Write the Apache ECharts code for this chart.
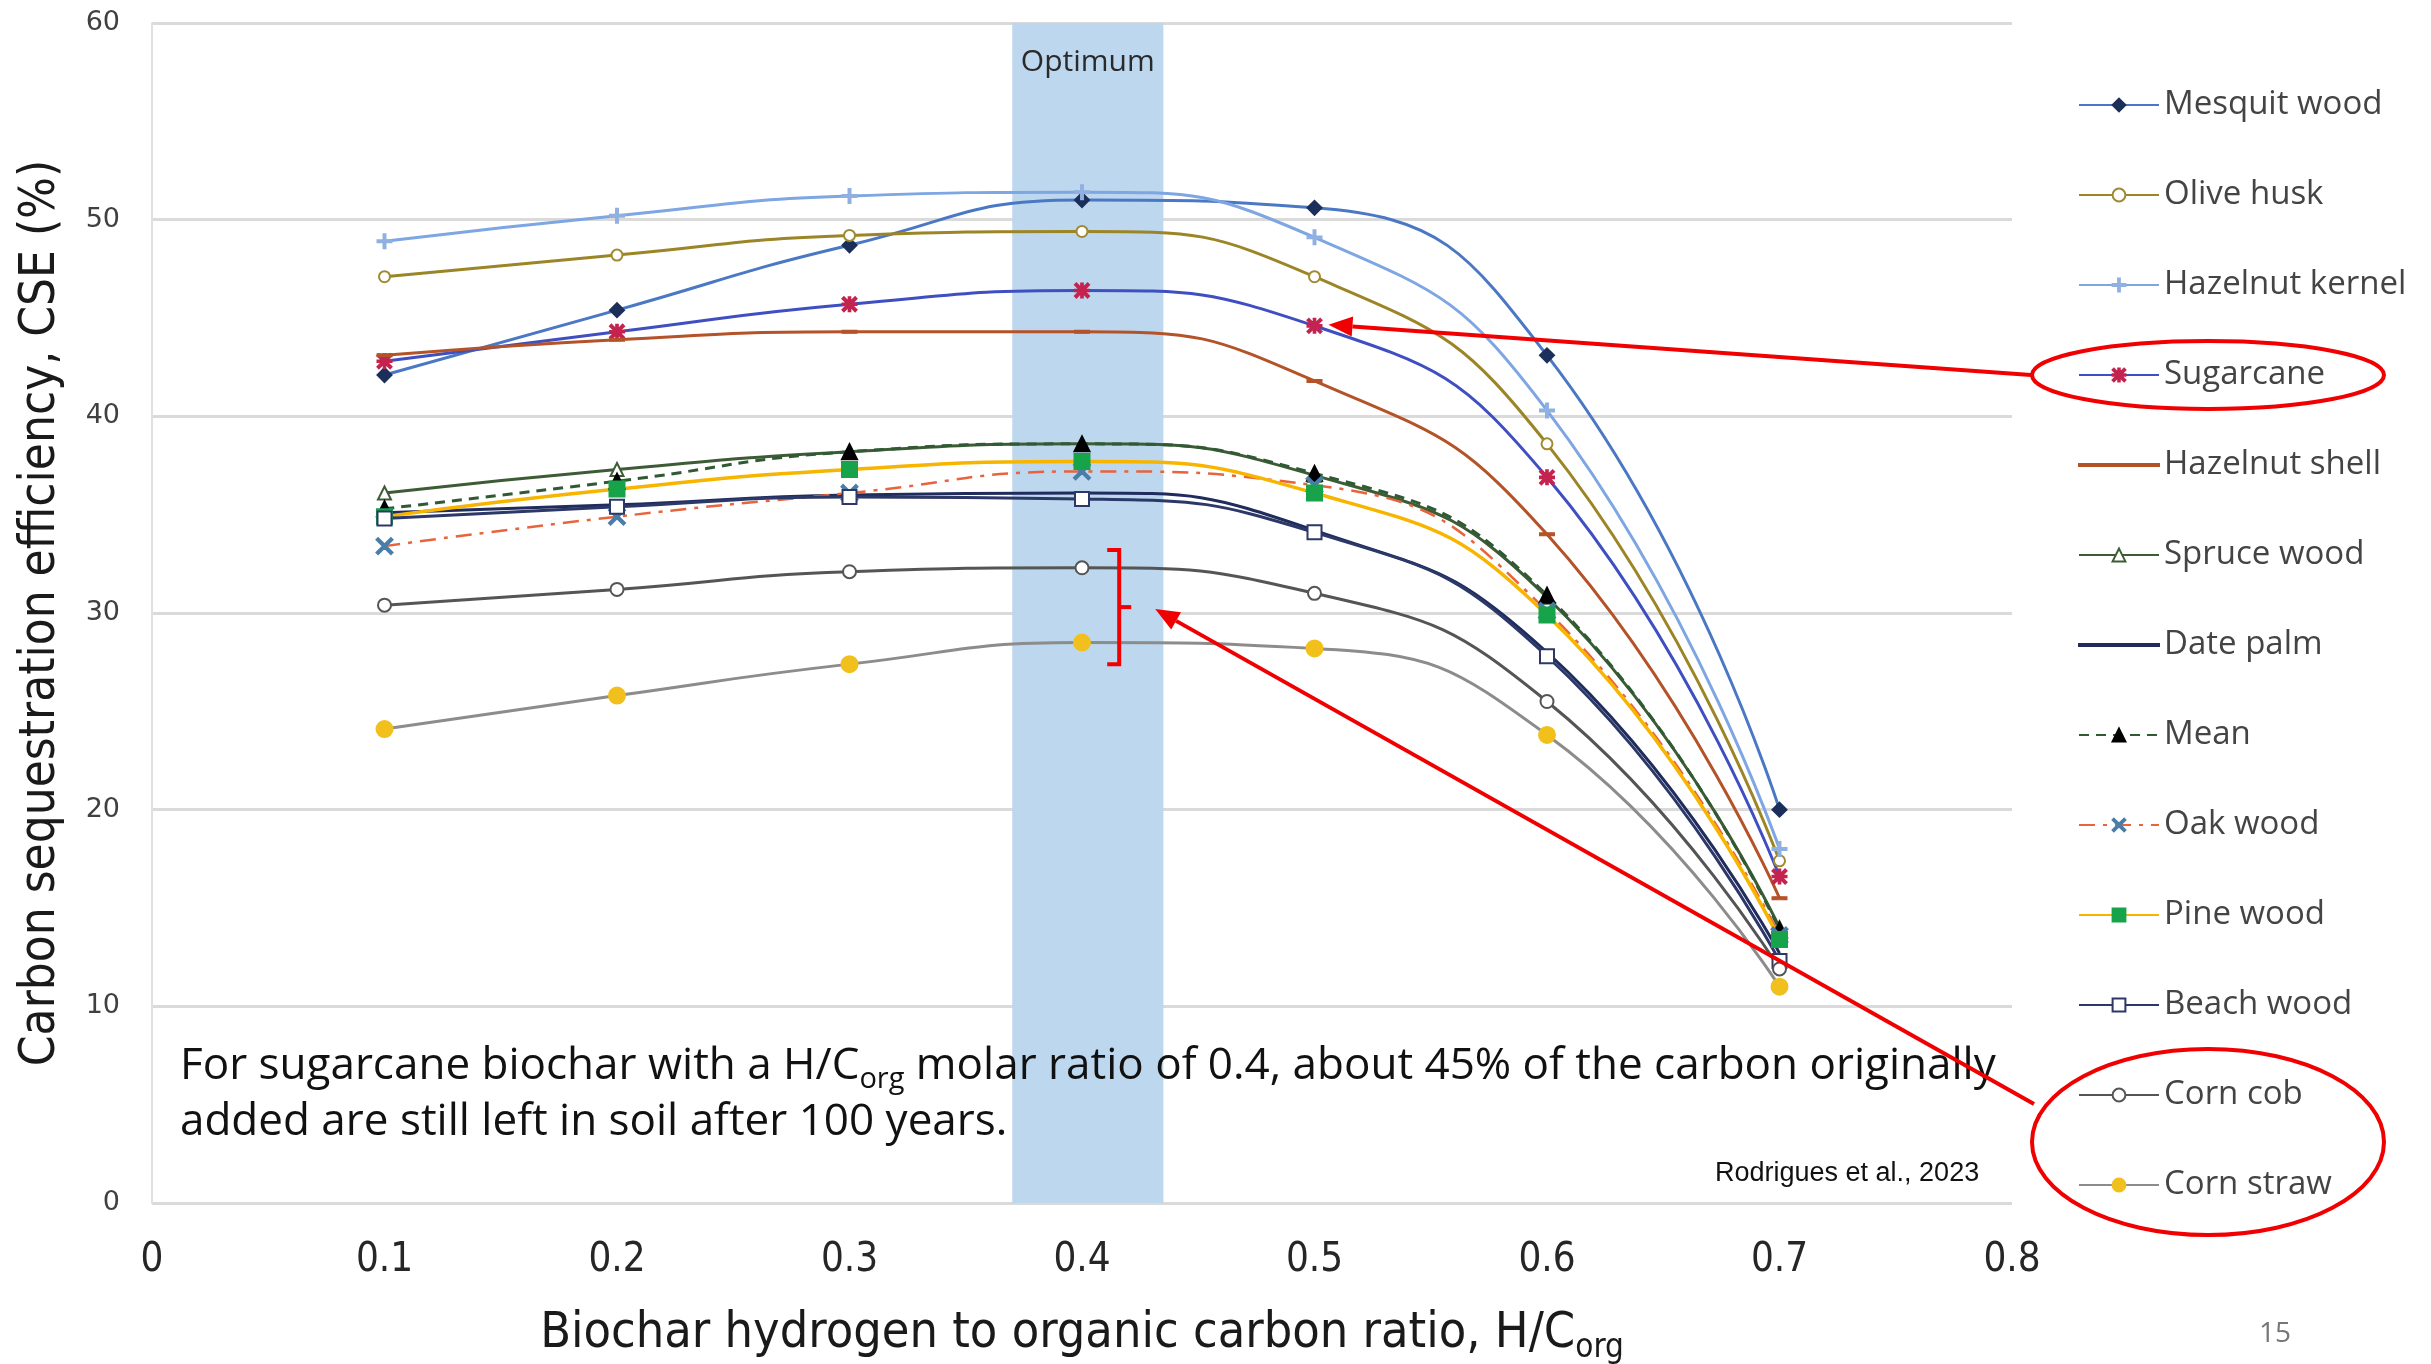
<!DOCTYPE html>
<html>
<head>
<meta charset="utf-8">
<script src="https://cdn.jsdelivr.net/npm/echarts@6/dist/echarts.min.js"></script>
<style>html,body{margin:0;background:#fff}#container1{width:2431px;height:1364px}</style>
</head>
<body>
<div id="container1"></div>
<script>
var hc = [0.1, 0.2, 0.3, 0.4, 0.5, 0.6, 0.7];

var mesquitWood    = [42.1, 45.4, 48.7, 51.0, 50.6, 43.1, 20.0];
var oliveHusk      = [47.1, 48.2, 49.2, 49.4, 47.1, 38.6, 17.4];
var hazelnutKernel = [48.9, 50.2, 51.2, 51.4, 49.1, 40.3, 18.0];
var sugarcane      = [42.8, 44.3, 45.7, 46.4, 44.6, 36.9, 16.6];
var hazelnutShell  = [43.1, 43.9, 44.3, 44.3, 41.8, 34.0, 15.5];
var spruceWood     = [36.1, 37.3, 38.2, 38.6, 37.0, 30.8, 14.0];
var datePalm       = [35.1, 35.5, 36.0, 36.1, 34.2, 28.0, 12.7];
var mean           = [35.3, 36.7, 38.2, 38.6, 37.1, 30.9, 13.9];
var oakWood        = [33.4, 34.9, 36.1, 37.2, 36.5, 30.1, 13.6];
var pineWood       = [34.9, 36.3, 37.3, 37.7, 36.1, 29.9, 13.4];
var beachWood      = [34.8, 35.4, 35.9, 35.8, 34.1, 27.8, 12.3];
var cornCob        = [30.4, 31.2, 32.1, 32.3, 31.0, 25.5, 11.9];
var cornStraw      = [24.1, 25.8, 27.4, 28.5, 28.2, 23.8, 11.0];

var optimum = [0.37, 0.435];

var narrow = "'Liberation Sans Narrow', 'DejaVu Sans Condensed', Roboto";

// marker shapes that echarts doesn't have
var plusPath = 'path://M4.3,0 h1.4 v4.3 h4.3 v1.4 h-4.3 v4.3 h-1.4 v-4.3 h-4.3 v-1.4 h4.3 z';
var crossPath = 'path://M1,0 L5,4 L9,0 L10,1 L6,5 L10,9 L9,10 L5,6 L1,10 L0,9 L4,5 L0,1 Z';
var starPath = 'path://M4.4,0 h1.2 v10 h-1.2 z M0,4.4 h10 v1.2 h-10 z M1,0 L5,4 L9,0 L10,1 L6,5 L10,9 L9,10 L5,6 L1,10 L0,9 L4,5 L0,1 Z';
// plain line for the legend (moveTo corners keep the box 80x16)
var barIcon = 'path://M0,0 M80,16 M0,7 L80,7 L80,9 L0,9 Z';

var dom = document.getElementById("container1");
var myChart = echarts.init(dom);

function mk(name, vals, lineColor, symbol, markColor, size) {
    return {
        name: name,
        type: 'line',
        smooth: 0.5,
        data: hc.map(function (x, i) { return [x, vals[i]]; }),
        symbol: symbol,
        symbolSize: size,
        showSymbol: symbol !== 'none',
        lineStyle: { color: lineColor, width: 3 },
        itemStyle: { color: markColor, borderColor: markColor, borderWidth: 2 },
        emphasis: { disabled: true }
    };
}

var series = [
    mk('Mesquit wood', mesquitWood, '#4a78c4', 'diamond', '#1c2f5a', 14),
    mk('Olive husk', oliveHusk, '#9c8526', 'emptyCircle', '#a08a34', 11),
    mk('Hazelnut kernel', hazelnutKernel, '#7da6e2', plusPath, '#8fb0e0', 14),
    mk('Sugarcane', sugarcane, '#3f4fc2', starPath, '#c4234f', 14),
    mk('Hazelnut shell', hazelnutShell, '#b45228', 'rect', '#b45228', [12, 3]),
    mk('Spruce wood', spruceWood, '#3d5c36', 'emptyTriangle', '#3d5c36', 13),
    mk('Date palm', datePalm, '#1f2c5c', 'none', '#1f2c5c', 0),
    mk('Mean', mean, '#2f5a34', 'triangle', '#000000', 15),
    mk('Oak wood', oakWood, '#e8643c', crossPath, '#4a7ea8', 16),
    mk('Pine wood', pineWood, '#f7b500', 'rect', '#17a34a', 15),
    mk('Beach wood', beachWood, '#2b3868', 'emptyRect', '#2b3868', 14),
    mk('Corn cob', cornCob, '#555555', 'emptyCircle', '#555555', 13),
    mk('Corn straw', cornStraw, '#8c8c8c', 'circle', '#f2c01c', 16)
];
series[7].lineStyle.type = [10, 7];
series[8].lineStyle.type = [16, 8, 4, 8];
series[8].lineStyle.width = 2.5;
series[9].lineStyle.width = 3.5;
series[0].markArea = {
    silent: true,
    itemStyle: { color: '#bdd7ee' },
    label: {
        show: true, position: 'insideTop', distance: 24,
        fontSize: 30, color: '#2a2a2a', fontFamily: 'Open Sans'
    },
    data: [[{ name: 'Optimum', xAxis: optimum[0] }, { xAxis: optimum[1] }]]
};

var legendData = series.map(function (s) {
    if (s.name === 'Date palm' || s.name === 'Hazelnut shell') return { name: s.name, icon: barIcon };
    return s.name;
});

option = {
    backgroundColor: '#fff',
    animation: false,
    grid: { left: 152, right: 419, top: 23, bottom: 161, outerBoundsMode: 'none', containLabel: false },
    legend: {
        orient: 'vertical',
        left: 2078,
        top: 87,
        padding: 0,
        itemWidth: 80,
        itemHeight: 16,
        itemGap: 54,
        textStyle: { fontSize: 33, color: '#444', fontFamily: 'Open Sans', lineHeight: 36 },
        data: legendData
    },
    xAxis: {
        type: 'value',
        min: 0, max: 0.8, interval: 0.1,
        name: '{a|Biochar hydrogen to organic carbon ratio, H/C}{s|org}',
        nameLocation: 'middle',
        nameGap: 100,
        nameTextStyle: {
            rich: {
                a: { fontSize: 50, color: '#1a1a1a', fontFamily: narrow, lineHeight: 62 },
                s: { fontSize: 33, color: '#1a1a1a', fontFamily: narrow, lineHeight: 40, verticalAlign: 'bottom' }
            }
        },
        axisLine: { show: false },
        axisTick: { show: false },
        splitLine: { show: false },
        axisLabel: { fontSize: 40, color: '#262626', fontFamily: narrow, margin: 38 }
    },
    yAxis: {
        type: 'value',
        min: 0, max: 60, interval: 10,
        name: 'Carbon sequestration efficiency, CSE (%)',
        nameLocation: 'middle',
        nameGap: 86,
        nameTextStyle: { fontSize: 49, color: '#1a1a1a', fontFamily: narrow },
        axisLine: { show: true, lineStyle: { color: '#e0e0e0', width: 2 } },
        axisTick: { show: false },
        splitLine: { lineStyle: { color: '#dadada', width: 3 } },
        axisLabel: { fontSize: 27, color: '#404040', fontFamily: 'DejaVu Sans', margin: 32 }
    },
    series: series
};

if (option && typeof option === "object") {
    myChart.setOption(option, true);
}

// red annotations of the slide
function arrow(x1, y1, x2, y2) {
    var a = Math.atan2(y2 - y1, x2 - x1), L = 24, W = 10;
    var bx = x2 - L * Math.cos(a), by = y2 - L * Math.sin(a);
    return [
        { type: 'line', shape: { x1: x1, y1: y1, x2: bx, y2: by }, style: { stroke: '#f00000', lineWidth: 4 }, z: 100 },
        { type: 'polygon', shape: { points: [[x2, y2],
            [bx + W * Math.sin(a), by - W * Math.cos(a)],
            [bx - W * Math.sin(a), by + W * Math.cos(a)]] }, style: { fill: '#f00000' }, z: 100 }
    ];
}

var tip1 = myChart.convertToPixel({ gridIndex: 0 }, [0.5, sugarcane[4]]);
var brTop = myChart.convertToPixel({ gridIndex: 0 }, [0.416, 33.2]);
var brBot = myChart.convertToPixel({ gridIndex: 0 }, [0.416, 27.4]);
var brMid = (brTop[1] + brBot[1]) / 2;
var bx0 = brTop[0] - 12;

var g = [];
g.push({ type: 'ellipse', shape: { cx: 2208, cy: 375, rx: 176, ry: 34 }, style: { fill: 'none', stroke: '#f00000', lineWidth: 4 }, z: 100 });
g.push({ type: 'ellipse', shape: { cx: 2208, cy: 1142, rx: 176, ry: 93 }, style: { fill: 'none', stroke: '#f00000', lineWidth: 4 }, z: 100 });
g = g.concat(arrow(2031, 375, tip1[0] + 14, tip1[1] - 1));
g = g.concat(arrow(2034, 1104, brTop[0] + 36, brMid + 2));
g.push({ type: 'polyline', shape: { points: [[bx0, brTop[1]], [brTop[0], brTop[1]], [brTop[0], brBot[1]], [bx0, brBot[1]]] },
    style: { fill: 'none', stroke: '#f00000', lineWidth: 4 }, z: 100 });
g.push({ type: 'line', shape: { x1: brTop[0], y1: brMid, x2: brTop[0] + 12, y2: brMid }, style: { stroke: '#f00000', lineWidth: 4 }, z: 100 });

g.push({
    type: 'text', left: 180, top: 1044, z: 90,
    style: {
        text: '{a|For sugarcane biochar with a H/C}{s|org}{a| molar ratio of 0.4, about 45% of the carbon originally}\n{a|added are still left in soil after 100 years.}',
        rich: {
            a: { fontSize: 44, fill: '#111', fontFamily: 'Open Sans', lineHeight: 56 },
            s: { fontSize: 29, fill: '#111', fontFamily: 'Open Sans', lineHeight: 36, verticalAlign: 'bottom' }
        }
    }
});
g.push({ type: 'text', left: 1715, top: 1160, z: 90, style: { text: 'Rodrigues et al., 2023', fontSize: 27, fill: '#111', fontFamily: 'Liberation Sans' } });
g.push({ type: 'text', left: 2259, top: 1320, z: 90, style: { text: '15', fontSize: 28, fill: '#777', fontFamily: 'Open Sans' } });

myChart.setOption({ graphic: g });
</script>
</body>
</html>
